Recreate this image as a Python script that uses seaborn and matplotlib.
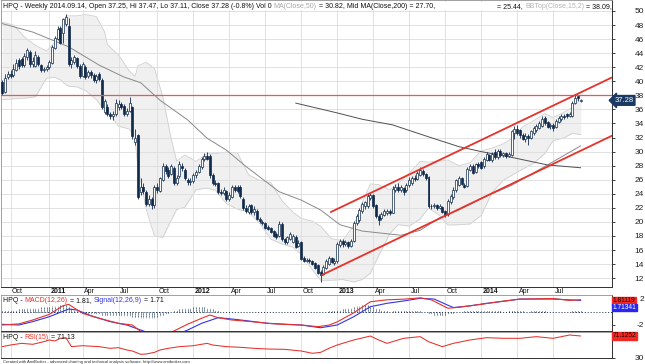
import numpy as np
import pandas as pd
import matplotlib
matplotlib.use("Agg")
import matplotlib.pyplot as plt
import matplotlib.transforms as mtransforms
from matplotlib import font_manager
import seaborn as sns

# weekly HPQ bars, first bar 2010.09.10, last bar 2014.09.12
opens = [39.9, 38.5, 40.6, 41.0, 40.9, 41.6, 43.0, 43.1, 42.3, 43.4,
         44.2, 42.4, 42.2, 43.5, 42.3, 41.6, 41.7, 42.0, 42.6, 44.8,
         46.0, 47.6, 46.8, 48.2, 47.8, 42.4, 42.8, 43.3, 42.2, 40.8,
         42.0, 40.7, 41.3, 40.9, 40.2, 41.1, 40.2, 35.6, 36.4, 35.3,
         35.0, 35.3, 36.3, 36.8, 36.5, 35.3, 35.8, 36.3, 31.3, 32.3,
         24.2, 25.0, 24.2, 22.6, 23.3, 22.4, 24.9, 24.4, 26.0, 27.9,
         27.4, 26.8, 27.6, 25.6, 26.5, 28.0, 27.4, 26.0, 25.7, 25.8,
         26.6, 27.1, 27.8, 28.9, 29.4, 29.4, 26.7, 25.6, 25.5, 24.3,
         24.1, 24.4, 23.3, 23.6, 24.9, 25.0, 24.9, 23.2, 22.0, 21.4,
         22.4, 21.4, 21.6, 20.4, 20.0, 19.8, 19.3, 19.1, 18.7, 18.3,
         18.0, 19.7, 17.5, 17.1, 17.6, 17.2, 17.9, 16.6, 17.1, 14.8,
         14.5, 14.6, 14.4, 14.1, 13.8, 12.9, 12.6, 13.5, 14.0, 14.8,
         14.2, 14.4, 16.7, 17.3, 16.8, 17.1, 16.6, 17.3, 19.8, 20.3,
         21.5, 22.2, 22.2, 23.4, 23.8, 22.4, 20.9, 20.5, 21.0, 21.2,
         21.6, 21.3, 24.5, 25.0, 24.6, 24.8, 24.5, 25.2, 25.6, 26.3,
         26.1, 26.7, 27.3, 26.8, 26.4, 22.3, 22.2, 22.4, 22.0, 22.1,
         21.5, 21.1, 22.8, 23.5, 24.5, 25.3, 26.2, 25.3, 25.1, 27.4,
         28.0, 27.1, 28.2, 28.5, 27.9, 28.8, 29.5, 28.8, 30.0, 29.2,
         30.1, 29.5, 29.8, 29.4, 29.5, 32.6, 33.2, 33.0, 32.4, 31.8,
         32.2, 32.0, 32.6, 33.0, 33.4, 33.7, 34.8, 34.2, 33.6, 33.8,
         33.5, 34.2, 34.6, 35.1, 35.3, 35.1, 35.0, 36.9, 37.9, 37.25]
highs = [40.2, 41.0, 41.5, 41.6, 42.5, 43.2, 43.3, 43.4, 44.0, 44.8,
         44.5, 43.5, 44.3, 43.8, 42.4, 42.1, 42.3, 43.0, 45.2, 46.5,
         47.9, 47.8, 49.0, 49.5, 49.0, 43.4, 43.8, 43.5, 42.5, 42.8,
         42.3, 41.6, 41.6, 41.2, 41.0, 41.3, 40.4, 37.5, 36.8, 35.7,
         35.8, 37.5, 37.3, 37.0, 36.7, 36.2, 37.8, 36.5, 33.2, 32.5,
         26.3, 25.5, 24.5, 23.8, 23.6, 25.3, 25.6, 26.4, 28.4, 28.2,
         27.8, 28.3, 28.0, 26.6, 28.6, 28.4, 27.6, 26.3, 26.2, 27.0,
         27.4, 28.3, 29.2, 29.8, 29.9, 29.6, 27.0, 26.0, 25.7, 24.7,
         24.9, 24.6, 24.2, 25.2, 25.3, 25.3, 25.2, 23.5, 22.4, 22.6,
         22.6, 22.2, 21.8, 20.7, 20.3, 20.0, 19.5, 19.3, 18.9, 18.5,
         20.1, 20.0, 17.7, 18.0, 18.6, 18.3, 18.1, 17.4, 17.3, 15.1,
         14.9, 14.8, 14.6, 14.3, 14.0, 13.2, 13.8, 14.7, 15.2, 15.0,
         14.8, 17.1, 17.5, 17.5, 17.4, 17.3, 17.6, 20.1, 21.1, 22.0,
         22.9, 23.0, 24.0, 24.1, 24.0, 22.6, 21.1, 21.4, 21.8, 21.9,
         21.9, 25.1, 25.4, 25.5, 25.2, 25.0, 25.6, 26.4, 26.5, 26.7,
         27.3, 27.8, 27.5, 27.0, 26.5, 22.6, 22.7, 22.6, 22.5, 22.3,
         21.7, 23.3, 24.0, 24.9, 26.1, 26.5, 26.4, 25.6, 27.8, 28.2,
         28.2, 28.4, 28.5, 28.7, 29.3, 29.9, 29.7, 29.9, 30.3, 30.4,
         30.4, 30.0, 30.0, 30.0, 33.1, 33.6, 33.8, 33.2, 32.6, 32.6,
         32.5, 33.1, 33.7, 33.9, 34.3, 35.0, 35.0, 34.4, 34.1, 34.0,
         34.6, 35.0, 35.3, 35.4, 35.5, 35.6, 37.2, 38.0, 38.1, 37.47]
lows = [38.0, 38.3, 40.3, 40.5, 40.6, 41.4, 41.8, 42.0, 42.1, 43.0,
        42.0, 42.0, 42.0, 42.2, 41.3, 41.3, 41.5, 41.8, 42.4, 44.6,
        45.8, 45.3, 45.5, 47.9, 42.2, 41.9, 42.5, 41.9, 40.5, 40.6,
        40.3, 40.4, 40.5, 39.9, 39.8, 40.0, 36.0, 35.4, 35.0, 34.6,
        34.5, 35.1, 35.9, 36.0, 35.0, 35.0, 35.6, 31.8, 30.9, 23.3,
        23.8, 23.9, 22.3, 22.2, 21.9, 22.0, 24.1, 24.2, 25.8, 26.8,
        26.2, 26.6, 25.3, 25.2, 26.3, 27.2, 26.0, 25.2, 25.3, 25.6,
        26.3, 26.9, 27.5, 28.6, 28.8, 26.3, 25.3, 25.1, 24.0, 23.8,
        23.8, 23.0, 23.0, 23.4, 24.3, 24.1, 23.4, 21.7, 21.2, 21.1,
        21.1, 21.0, 20.2, 19.8, 19.5, 19.0, 18.8, 18.4, 17.8, 17.5,
        17.9, 17.3, 16.9, 16.9, 17.4, 17.0, 16.3, 16.4, 14.6, 14.3,
        14.3, 14.2, 13.8, 13.3, 12.6, 11.4, 12.5, 13.3, 13.8, 14.1,
        13.9, 14.2, 16.4, 16.5, 16.6, 16.3, 16.4, 17.2, 19.6, 20.0,
        21.2, 21.8, 22.0, 23.1, 22.0, 20.5, 19.6, 20.2, 20.8, 21.0,
        21.0, 21.2, 24.2, 24.2, 24.3, 23.8, 24.3, 25.0, 25.3, 25.8,
        25.9, 26.5, 26.5, 26.0, 22.0, 21.9, 22.0, 21.7, 21.8, 21.2,
        20.7, 20.9, 22.6, 23.3, 24.3, 25.1, 25.2, 24.8, 24.9, 27.2,
        26.8, 26.9, 27.6, 27.5, 27.7, 28.6, 28.6, 28.5, 29.0, 29.0,
        29.2, 29.2, 29.1, 29.2, 29.4, 31.8, 32.4, 32.0, 31.6, 31.4,
        31.0, 31.8, 32.4, 32.8, 33.2, 33.5, 33.8, 33.3, 33.2, 32.9,
        33.3, 34.0, 34.4, 34.6, 34.8, 34.9, 34.9, 36.7, 37.2, 37.11]
closes = [38.3, 40.5, 41.0, 40.8, 41.8, 42.6, 42.2, 42.3, 43.6, 44.4,
          42.4, 42.9, 43.8, 42.5, 41.6, 41.7, 42.0, 42.7, 44.9, 46.2,
          47.5, 45.4, 48.9, 49.2, 42.4, 43.0, 43.5, 42.2, 40.8, 42.4,
          40.6, 41.3, 40.9, 40.2, 40.7, 40.3, 36.3, 37.2, 35.3, 35.0,
          35.4, 36.9, 36.8, 36.4, 35.3, 35.8, 36.9, 32.2, 32.0, 23.6,
          25.0, 24.4, 22.6, 23.3, 22.4, 24.9, 24.5, 26.2, 27.9, 27.2,
          26.5, 27.9, 25.6, 26.2, 28.2, 27.6, 26.2, 25.7, 25.8, 26.6,
          27.1, 28.0, 28.9, 29.4, 29.0, 26.6, 25.6, 25.4, 24.3, 24.1,
          24.5, 23.3, 23.8, 24.9, 24.6, 24.4, 23.7, 22.0, 21.6, 22.3,
          21.4, 21.8, 20.4, 20.1, 19.8, 19.2, 19.0, 18.6, 18.0, 17.8,
          19.7, 17.5, 17.1, 17.8, 18.3, 18.0, 16.5, 17.0, 14.7, 14.5,
          14.6, 14.4, 14.0, 13.5, 12.8, 12.4, 13.6, 14.5, 14.9, 14.3,
          14.4, 16.9, 17.3, 16.8, 17.1, 16.6, 17.3, 19.8, 20.8, 21.7,
          22.6, 22.8, 23.7, 23.8, 22.2, 20.8, 20.3, 21.1, 21.5, 21.6,
          21.3, 24.7, 25.0, 24.6, 24.9, 24.3, 25.3, 26.0, 26.3, 26.1,
          27.0, 27.4, 26.8, 26.3, 22.3, 22.2, 22.4, 22.0, 22.2, 21.4,
          21.0, 23.0, 23.7, 24.6, 25.9, 26.3, 25.4, 25.0, 27.5, 28.0,
          27.0, 28.2, 27.9, 27.7, 29.0, 29.7, 28.8, 29.6, 29.2, 30.1,
          29.5, 29.8, 29.4, 29.7, 32.9, 33.2, 32.6, 32.3, 31.8, 32.2,
          31.9, 32.9, 33.4, 33.6, 34.0, 34.7, 34.0, 33.5, 33.8, 33.4,
          34.4, 34.8, 35.1, 34.9, 35.0, 35.3, 36.9, 37.6, 37.58, 37.28]

# overlays (bar index, value)
bb_idx = [0, 4, 8, 12, 16, 19, 21, 23, 24, 27, 30, 34, 37, 38, 42, 46, 48, 49, 52, 55,
          58, 61, 63, 66, 70, 74, 77, 81, 85, 89, 93, 97, 101, 105, 108, 112, 115, 119, 123, 127,
          130, 133, 136, 140, 143, 147, 151, 154, 158, 161, 165, 169, 173, 177, 181, 184, 188, 192, 196, 199,
          203, 206, 209]
bb_top = [48.4, 48.0, 46.3, 45.1, 44.3, 45.55, 47.0, 49.3, 49.3, 49.3, 49.5, 49.2, 47.0, 45.2, 43.75, 41.4, 40.7, 42.2, 42.7, 41.8,
          37.8, 31.9, 28.65, 29.5, 28.6, 29.7, 29.7, 29.95, 29.8, 26.7, 25.9, 25.6, 23.05, 21.4, 20.5, 20.1, 19.4, 17.6, 17.35, 19.5,
          22.7, 25.4, 25.3, 24.55, 25.45, 26.9, 28.6, 28.5, 28.7, 28.8, 28.0, 28.4, 30.1, 30.5, 31.1, 31.85, 33.5, 34.4, 35.4, 34.85,
          35.6, 36.3, 38.09]
bb_bot = [37.4, 37.5, 37.6, 37.8, 40.45, 40.55, 40.2, 39.5, 39.3, 39.2, 38.7, 37.4, 35.8, 35.8, 33.6, 33.2, 31.6, 27.8, 21.8, 17.97,
          17.8, 20.2, 21.77, 22.1, 24.6, 24.8, 24.5, 22.6, 21.8, 21.4, 19.8, 17.55, 16.85, 16.4, 15.4, 13.2, 11.7, 11.7, 11.8, 11.45,
          11.8, 12.7, 15.2, 18.3, 19.6, 19.4, 20.4, 22.0, 20.9, 19.55, 19.6, 19.7, 20.9, 24.2, 25.9, 26.6, 27.5, 28.35, 29.7, 31.55,
          31.95, 32.6, 32.4]
ma50_idx = [0, 11, 24, 35, 44, 50, 57, 67, 74, 81, 88, 93, 100, 108, 115, 122, 130, 137, 144, 151,
            158, 165, 174, 184, 197, 209]
ma50_val = [48.2, 47.0, 44.9, 42.3, 40.6, 39.8, 37.3, 34.5, 31.9, 30.2, 27.9, 26.4, 24.3, 23.1, 21.7, 19.6, 18.7, 18.4, 18.1, 18.8,
            20.6, 21.7, 23.5, 25.2, 28.1, 30.82]
ma200_idx = [106, 121, 130, 141, 154, 165, 173, 185, 197, 209]
ma200_val = [36.9, 35.5, 34.6, 33.8, 32.1, 30.7, 30.0, 29.1, 28.1, 27.70]

# hand drawn trend channel and level
chan_up_idx = [118.7, 220.3]
chan_up_val = [21.4, 40.55]
chan_lo_idx = [115.5, 220.3]
chan_lo_val = [12.45, 32.26]
level = 38.0

# MACD panel
macd_idx = [0, 6, 11, 17, 22, 24, 29, 35, 42, 47, 51, 55, 59, 62, 67, 72, 75, 78, 83, 90,
            96, 101, 108, 114, 118, 121, 127, 133, 139, 145, 151, 155, 161, 165, 173, 181, 187, 199, 205, 209]
macd_val = [-2.08, -1.9, -1.31, -0.44, 0.9, 1.1, -0.28, -1.05, -1.82, -2.08, -3.4, -4.3, -4.0, -3.0, -1.95, -1.05, -0.54, -0.95, -1.31, -1.56,
            -1.82, -1.97, -2.08, -2.33, -2.1, -1.6, -0.2, 1.5, 1.8, 1.9, 2.1, 1.8, 0.5, 0.65, 1.1, 1.6, 1.9, 2.0, 1.7, 1.81]
sig_idx = [0, 6, 11, 17, 24, 27, 32, 39, 45, 51, 56, 61, 67, 72, 78, 84, 96, 108, 115, 121,
           127, 133, 139, 145, 151, 156, 161, 163, 169, 175, 182, 187, 199, 209]
sig_val = [-1.97, -2.08, -1.56, -0.8, 0.38, 0.23, -0.64, -1.56, -2.08, -3.0, -3.8, -3.9, -2.85, -1.82, -0.95, -1.2, -1.82, -2.08, -2.5, -2.08,
           -0.8, 0.74, 1.26, 1.62, 2.03, 1.92, 0.97, 0.61, 0.87, 1.26, 1.62, 1.92, 1.92, 1.71]
hist = [0.10, 0.15, 0.20, 0.20, 0.25,
        0.30, 0.35, 0.40, 0.45, 0.50, 0.50, 0.55, 0.60, 0.60, 0.65, 0.65, 0.70, 0.70,
        0.80, 0.85, 0.90, 0.95, 1.00, 1.00, 0.80,
        0.50, 0.30, 0.10, -0.10,
        -0.20, -0.30, -0.35, -0.40, -0.40, -0.45, -0.45, -0.50, -0.50, -0.55, -0.55, -0.60,
        -0.60, -0.60, -0.65, -0.70, -0.70, -0.75, -0.80, -0.85,
        -0.90, -1.00, -1.00, -1.05, -1.05, -1.00, -0.95, -0.85,
        -0.70, -0.50, -0.35, -0.20,
        0.00, 0.15, 0.25, 0.35, 0.45, 0.50, 0.55, 0.60, 0.65, 0.70, 0.70, 0.70, 0.65, 0.60, 0.50, 0.35, 0.20, 0.10,
        -0.05, -0.10, -0.10, -0.10, -0.10, -0.05, -0.10, -0.10,
        -0.15, -0.15, -0.10, -0.15, -0.10, -0.15, -0.15, -0.10, -0.15, -0.10, -0.10, -0.15, -0.10, -0.05,
        -0.10, -0.10, -0.05, -0.05, -0.05, -0.10, -0.05, -0.15, -0.15, -0.15,
        -0.15, -0.15, -0.15, -0.15, -0.10, -0.05, 0.00, 0.05, 0.05, 0.10,
        0.20, 0.30, 0.40, 0.50, 0.55, 0.60, 0.70, 0.80, 0.90, 0.95, 1.00, 0.95, 0.90, 0.75, 0.55, 0.35,
        0.20, 0.10, 0.05, 0.00, 0.10, 0.10, 0.10, 0.05, 0.05, 0.05, 0.10, 0.10, 0.10, 0.10, 0.05, 0.00, -0.05,
        -0.30, -0.45, -0.55, -0.60, -0.60, -0.55, -0.50, -0.40, -0.30, -0.20,
        -0.10, -0.05, 0.00, 0.05, 0.10, 0.10, 0.10, 0.05, 0.10, 0.05,
        0.05, 0.10, 0.05, 0.05, 0.05, 0.05, 0.05, 0.00, 0.00, 0.05,
        0.10, 0.10, 0.10, 0.05, 0.05, 0.00, 0.00, 0.05, 0.05, 0.05,
        0.05, 0.05, 0.05, 0.00, 0.00, 0.00, -0.05, -0.05, 0.00, 0.00,
        0.00, 0.00, 0.05, 0.05, 0.05, 0.05]

# RSI panel
rsi_idx = [0, 3, 7, 11, 15, 17, 19, 21, 23, 25, 29, 35, 39, 42, 45, 47, 50, 52, 55, 57,
           60, 64, 69, 74, 76, 81, 86, 91, 96, 102, 108, 112, 115, 118, 121, 127, 133, 136, 139, 145,
           151, 154, 159, 163, 169, 175, 181, 187, 193, 199, 205, 209]
rsi_val = [51.2, 54.3, 57.4, 55.6, 60.5, 63.7, 61.8, 66.8, 68.0, 51.2, 53.0, 51.2, 48.1, 49.3, 45.0, 43.1, 36.9, 37.5, 40.6, 45.0,
           48.1, 51.2, 53.0, 57.4, 54.3, 51.2, 50.0, 48.1, 46.8, 46.2, 43.1, 38.8, 40.5, 48.0, 54.3, 63.7, 71.1, 63.7, 57.4, 66.8,
           69.9, 60.5, 51.2, 57.4, 63.7, 68.0, 66.8, 66.8, 69.9, 66.8, 73.0, 71.13]

quarter_labels = ['Oct', '2011', 'Apr', 'Jul', 'Oct', '2012', 'Apr', 'Jul',
                  'Oct', '2013', 'Apr', 'Jul', 'Oct', '2014', 'Apr', 'Jul']

for name, arr in [('opens', opens), ('highs', highs), ('lows', lows), ('hist', hist)]:
    assert len(arr) == len(closes), (name, len(arr))

sns.set_style("white")
installed = {f.name for f in font_manager.fontManager.ttflist}
if "Liberation Sans Narrow" in installed:
    TFONT, TSIZE = "Liberation Sans Narrow", 6.0
else:
    TFONT, TSIZE = "Liberation Sans", 5.0
plt.rcParams["font.family"] = ["Liberation Sans", "DejaVu Sans"]
plt.rcParams["axes.unicode_minus"] = False

NAVY = "#102a4c"
RED = "#e5322b"
BLUE = "#3434e6"
GRID = "#dcdcdc"
LABEL_PAD = 21.0   # right axis labels end near the image edge

dates = pd.date_range("2010-09-10", periods=len(closes), freq="W-FRI")
qtr = dates.to_period("Q")
q_starts = [i for i in range(1, len(dates)) if qtr[i] != qtr[i - 1]]
idx = np.arange(len(closes))
XMIN, XMAX = -0.64, 220.3

W, H = 645.0, 364.0
fig = plt.figure(figsize=(6.45, 3.64), dpi=100)


def px_axes(x0, y0, x1, y1):
    return fig.add_axes([x0 / W, 1 - y1 / H, (x1 - x0) / W, (y1 - y0) / H])


ax = px_axes(0.5, 0, 612, 287)
ax_macd = px_axes(0.5, 295, 612, 331)
ax_rsi = px_axes(0.5, 332, 612, 358)


def seg_text(axis, x, y, parts, bbox=None):
    t = axis.text(x, y, parts[0][0], color=parts[0][1], transform=axis.transAxes,
                  ha="left", va="bottom", fontsize=TSIZE, family=TFONT,
                  bbox=bbox, zorder=10, clip_on=True)
    for s, col in parts[1:]:
        t = axis.annotate(s, xy=(1, 0), xycoords=t, ha="left", va="bottom",
                          color=col, fontsize=TSIZE, family=TFONT, bbox=bbox,
                          zorder=10, annotation_clip=False, clip_on=True)
    return t


def value_box(axis, y, text, face, fg, style="square,pad=0.06", size=4.8, x=1.001):
    tf = mtransforms.blended_transform_factory(axis.transAxes, axis.transData)
    axis.text(x, y, text, transform=tf, ha="left", va="center",
              fontsize=size, family=TFONT, color=fg, zorder=12, clip_on=False,
              bbox=dict(boxstyle=style, facecolor=face, edgecolor=face))


def right_ticks(axis):
    axis.tick_params(axis="y", direction="out", length=2, width=0.6, pad=LABEL_PAD,
                     labelsize=6, colors="#202020")
    for lab in axis.get_yticklabels():
        lab.set_horizontalalignment("right")


for a in (ax, ax_macd, ax_rsi):
    a.set_xlim(XMIN, XMAX)
    a.set_xticks(q_starts)
    a.set_xticklabels([])
    a.set_axisbelow("line")
    a.grid(True, axis="x", color=GRID, linewidth=0.6)
    a.yaxis.tick_right()
    for side in ("left", "top"):
        a.spines[side].set_color("#909090")
        a.spines[side].set_linewidth(0.6)
    a.spines["right"].set_color("#303030")
    a.spines["right"].set_linewidth(0.7)
    a.spines["bottom"].set_color("#303030")
    a.spines["bottom"].set_linewidth(0.7)

# ---------------- price panel ----------------
ax.set_ylim(10.74, 51.56)
ax.set_yticks(np.arange(12, 51, 2))
ax.grid(True, axis="y", color=GRID, linewidth=0.6)
right_ticks(ax)
ax.tick_params(axis="x", direction="out", length=3, width=0.6, colors="#404040")

ax.fill_between(bb_idx, bb_bot, bb_top, color="#f0f0f0", linewidth=0, zorder=1)
ax.plot(bb_idx, bb_top, color="#cfcfcf", linewidth=0.6, zorder=1.2)
ax.plot(bb_idx, bb_bot, color="#cfcfcf", linewidth=0.6, zorder=1.2)

sns.lineplot(x=ma50_idx, y=ma50_val, ax=ax, color="#8a8a8a", linewidth=0.7,
             errorbar=None, zorder=2)
sns.lineplot(x=ma200_idx, y=ma200_val, ax=ax, color="#505050", linewidth=0.7,
             errorbar=None, zorder=2)

o = np.array(opens)
h = np.array(highs)
l = np.array(lows)
c = np.array(closes)
up = c >= o
ax.vlines(idx, l, h, color=NAVY, linewidth=0.6, zorder=3)
body_lo = np.minimum(o, c)
body_h = np.maximum(np.abs(c - o), 0.08)
ax.bar(idx[up], body_h[up], bottom=body_lo[up], width=0.72, color="white",
       edgecolor=NAVY, linewidth=0.5, zorder=4)
ax.bar(idx[~up], body_h[~up], bottom=body_lo[~up], width=0.72, color=NAVY,
       edgecolor=NAVY, linewidth=0.5, zorder=4)

ax.axhline(level, color="#e25a5a", linewidth=0.9, zorder=5)
ax.plot(chan_up_idx, chan_up_val, color=RED, linewidth=1.3, zorder=5)
ax.plot(chan_lo_idx, chan_lo_val, color=RED, linewidth=1.3, zorder=5)
ax.set_xlabel("")
ax.set_ylabel("")

white_box = dict(facecolor="white", edgecolor="none", pad=0.3)
seg_text(ax, 0.004, 0.966, [
    ("HPQ - Weekly 2014.09.14, Open 37.25, Hi 37.47, Lo 37.11, Close 37.28 (-0.8%) Vol 0 ", "#101010"),
    ("MA(Close,50)", "#a8a8a8"),
    (" = 30.82, Mid MA(Close,200) = 27.70, ", "#101010"),
    ("BBBot(Close,15,2)", "#ffffff"),
    (" = 25.44, ", "#101010"),
    ("BBTop(Close,15,2)", "#b4b4b4"),
    (" = 38.09,", "#101010"),
], bbox=white_box)

value_box(ax, closes[-1], "37.28", "#1b3a63", "white", style="larrow,pad=0.18",
          size=5.5, x=1.004)

date_tf = mtransforms.blended_transform_factory(ax.transData, ax.transAxes)
for q, lab in zip(q_starts, quarter_labels):
    ax.text(q + 0.55, -0.004, lab, transform=date_tf, ha="left", va="top",
            fontsize=TSIZE, family=TFONT, color="#101010",
            fontweight="bold" if lab.isdigit() else "normal")

# ---------------- MACD panel ----------------
ax_macd.set_ylim(-3.0, 2.54)
ax_macd.set_yticks([-2, 2])
right_ticks(ax_macd)
ax_macd.tick_params(axis="x", length=0)
ax_macd.axhline(0, color=NAVY, linewidth=0.7, linestyle=(0, (1, 2)), zorder=2)
ax_macd.vlines(idx, 0, hist, colors=NAVY, linewidth=0.7, linestyles=(0, (1, 1)), zorder=2)
sns.lineplot(x=sig_idx, y=sig_val, ax=ax_macd, color=BLUE, linewidth=0.8,
             errorbar=None, zorder=3)
sns.lineplot(x=macd_idx, y=macd_val, ax=ax_macd, color=RED, linewidth=0.8,
             errorbar=None, zorder=4)
ax_macd.set_xlabel("")
ax_macd.set_ylabel("")
seg_text(ax_macd, 0.004, 0.76, [
    ("HPQ - ", "#101010"), ("MACD(12,26)", RED), (" = 1.81, ", "#101010"),
    ("Signal(12,26,9)", BLUE), (" = 1.71", "#101010"),
])
value_box(ax_macd, macd_val[-1] - 0.15, "1.81119", "#f02a22", "#200000")
value_box(ax_macd, sig_val[-1] - 1.1, "1.71341", "#2727f0", "white")

# ---------------- RSI panel ----------------
ax_rsi.set_ylim(30.0, 78.6)
ax_rsi.set_yticks([30])
right_ticks(ax_rsi)
ax_rsi.tick_params(axis="x", length=0)
sns.lineplot(x=rsi_idx, y=rsi_val, ax=ax_rsi, color=RED, linewidth=0.75,
             errorbar=None, zorder=3)
ax_rsi.set_xlabel("")
ax_rsi.set_ylabel("")
seg_text(ax_rsi, 0.004, 0.66, [
    ("HPQ - ", "#101010"), ("RSI(15)", RED), (" = 71.13", "#101010"),
])
value_box(ax_rsi, rsi_val[-1], "71.1252", "#f02a22", "#200000")

fig.text(3 / W, 1 - 361.5 / H,
         "Created with AmiBroker - advanced charting and technical analysis software. http://www.amibroker.com",
         fontsize=3.0, color="#303030", va="center", ha="left")

fig.savefig("out.png", dpi=100, facecolor="white")
